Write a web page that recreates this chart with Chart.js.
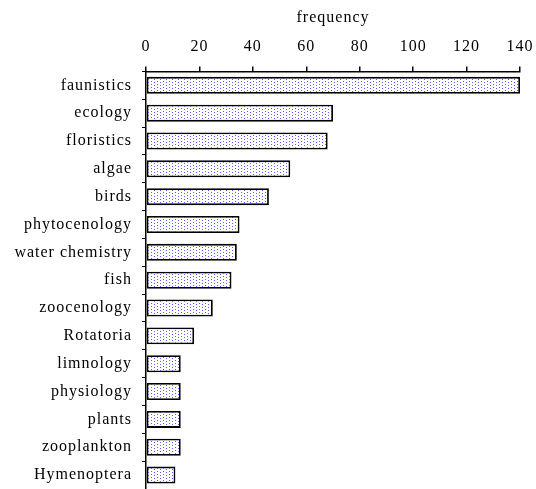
<!DOCTYPE html>
<html>
<head>
<meta charset="utf-8">
<script src="https://cdn.jsdelivr.net/npm/chart.js@4.4.1/dist/chart.umd.min.js"></script>
<style>
    html, body { margin: 0; padding: 0; background: #fff; overflow: hidden; }
    canvas { display: block; }
</style>
</head>
<body>
<canvas id="chart_freq" width="536" height="489"></canvas>
<script>
const TOPICS = [
    'faunistics',
    'ecology',
    'floristics',
    'algae',
    'birds',
    'phytocenology',
    'water chemistry',
    'fish',
    'zoocenology',
    'Rotatoria',
    'limnology',
    'physiology',
    'plants',
    'zooplankton',
    'Hymenoptera'
];
const FREQUENCY = [140, 70, 68, 54, 46, 35, 34, 32, 25, 18, 13, 13, 13, 13, 11];
const X_TICKS = [0, 20, 40, 60, 80, 100, 120, 140];

// dotted fill like the old spreadsheet pattern
function dotPattern() {
    var c = document.createElement('canvas');
    c.width = 6;
    c.height = 3;
    var g = c.getContext('2d');
    g.fillStyle = '#ffffff';
    g.fillRect(0, 0, 6, 3);
    g.fillStyle = '#5c5cff';
    g.fillRect(1, 0, 1, 1);
    g.fillRect(4, 1, 1, 1);
    return g.createPattern(c, 'repeat');
}

var spacing = {
    id: 'spacing',
    beforeInit: function (chart) { chart.ctx.letterSpacing = '1px'; },
    beforeDraw: function (chart) { chart.ctx.letterSpacing = '1px'; }
};

Chart.defaults.font.family = '"Liberation Serif", "Times New Roman", serif';
Chart.defaults.font.size = 16;
Chart.defaults.color = '#000';

var ctx = document.getElementById('chart_freq');
var freqChart = new Chart(ctx, {
    type: 'bar',
    plugins: [spacing],
    data: {
        labels: TOPICS,
        datasets: [{
            label: 'frequency',
            data: FREQUENCY,
            backgroundColor: dotPattern(),
            borderColor: '#000',
            borderWidth: 1.8,
            borderSkipped: false,
            categoryPercentage: 1,
            barPercentage: 0.61
        }]
    },
    options: {
        indexAxis: 'y',
        responsive: false,
        animation: false,
        devicePixelRatio: 1,
        layout: { padding: { top: 8, right: 0, bottom: 0, left: 0 } },
        plugins: {
            legend: { display: false },
            tooltip: { enabled: false }
        },
        scales: {
            x: {
                position: 'top',
                min: 0,
                max: 140,
                afterBuildTicks: function (scale) {
                    scale.ticks = X_TICKS.map(function (v) { return { value: v }; });
                },
                afterFit: function (scale) { scale.paddingRight = 16; },
                title: { display: true, text: 'frequency', padding: { top: 0, bottom: 0 } },
                border: { display: true, color: '#000', width: 1.5 },
                grid: { drawOnChartArea: false, drawTicks: true, tickLength: 5, color: '#000', lineWidth: 1.5 },
                ticks: { padding: 10, maxRotation: 0 }
            },
            y: {
                afterFit: function (scale) {
                    scale.width = 146;
                    scale.paddingTop = 0;
                    scale.paddingBottom = 0;
                },
                border: { display: true, color: '#000', width: 1.5 },
                grid: { drawOnChartArea: false, drawTicks: true, tickLength: 4, color: '#000', lineWidth: 1, offset: true },
                ticks: { padding: 10, autoSkip: false }
            }
        }
    }
});
</script>
</body>
</html>
